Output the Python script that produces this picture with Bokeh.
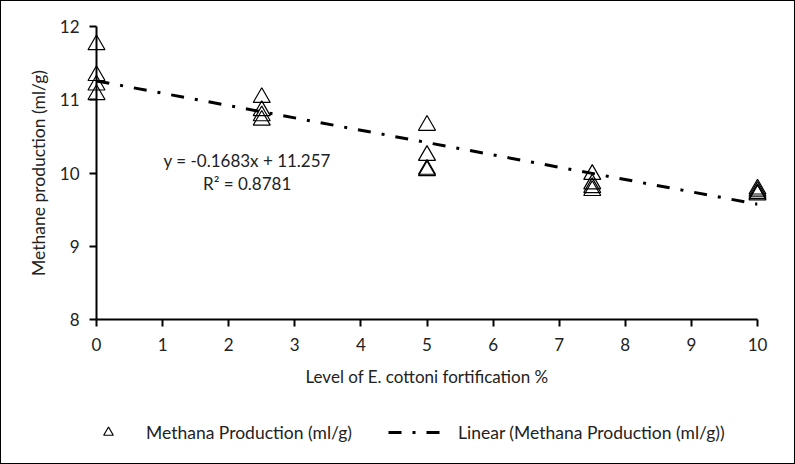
from bokeh.plotting import figure
from bokeh.layouts import column
from bokeh.models import Range1d, FixedTicker, Label, Legend, LegendItem
from bokeh.embed import file_html
from bokeh.resources import INLINE

# ---- data ----
levels = [0, 0, 0, 0,
          2.5, 2.5, 2.5, 2.5,
          5, 5, 5, 5,
          7.5, 7.5, 7.5, 7.5,
          10, 10, 10, 10]
methane = [11.75, 11.33, 11.20, 11.07,
           11.03, 10.85, 10.78, 10.72,
           10.65, 10.24, 10.05, 10.03,
           9.98, 9.85, 9.80, 9.76,
           9.78, 9.75, 9.72, 9.70]
trend_slope = -0.1683
trend_intercept = 11.257
trend_x = [0, 10]
trend_y = [trend_intercept + trend_slope * v for v in trend_x]
x_ticks = [0, 1, 2, 3, 4, 5, 6, 7, 8, 9, 10]
y_ticks = [8, 9, 10, 11, 12]
eq_text = "y = -0.1683x + 11.257"
r2_text = "R\u00b2 = 0.8781"
series_name = "Methana Production (ml/g)"
trend_name = "Linear (Methana Production (ml/g))"
x_title = "Level of E. cottoni fortification %"
y_title = "Methane production (ml/g)"

FONT = "Lato"
FS = "17px"
TXT = "#222222"

MARKER = dict(marker="triangle", fill_color=None, line_color="black", line_width=1.2)
TREND = dict(line_color="black", line_width=3, line_dash="13 11 3 11", line_cap="butt")

# ---- main chart ----
p = figure(width=793, height=400, output_backend="svg", toolbar_location=None,
           x_range=Range1d(0, 10), y_range=Range1d(8, 12),
           min_border_left=95, min_border_right=37, min_border_top=25, min_border_bottom=82)
p.outline_line_color = None
p.grid.visible = False
p.background_fill_color = "white"
p.border_fill_color = "white"

for ax in (p.xaxis[0], p.yaxis[0]):
    ax.axis_line_width = 2
    ax.axis_line_color = "black"
    ax.major_tick_line_width = 2
    ax.major_tick_line_color = "black"
    ax.major_tick_in = 0
    ax.major_tick_out = 7
    ax.minor_tick_line_color = None
    ax.major_label_text_font = FONT
    ax.major_label_text_font_size = FS
    ax.major_label_text_color = TXT
    ax.axis_label_text_font = FONT
    ax.axis_label_text_font_style = "normal"
    ax.axis_label_text_color = TXT

p.xaxis.ticker = FixedTicker(ticks=x_ticks)
p.yaxis.ticker = FixedTicker(ticks=y_ticks)
p.xaxis.axis_label = x_title
p.yaxis.axis_label = y_title
p.xaxis.axis_label_text_font_size = "17px"
p.yaxis.axis_label_text_font_size = "17.5px"
p.xaxis.major_label_standoff = 11
p.yaxis.major_label_standoff = 10
p.xaxis.axis_label_standoff = 12
p.yaxis.axis_label_standoff = 8

trend = p.line(trend_x, trend_y, **TREND)
pts = p.scatter(levels, methane, size=17, **MARKER)
pts.level = "overlay"

p.add_layout(Label(x=2.28, y=10.17, text=eq_text, text_align="center", text_baseline="middle",
                   text_font=FONT, text_font_size=FS, text_color=TXT))
p.add_layout(Label(x=2.28, y=9.86, text=r2_text, text_align="center", text_baseline="middle",
                   text_font=FONT, text_font_size=FS, text_color=TXT))

# ---- legend strip (same styled renderers, their points fall outside this strip's ranges) ----
q = figure(width=793, height=62, output_backend="svg", toolbar_location=None,
           x_range=Range1d(0, 1), y_range=Range1d(0, 1),
           x_axis_location=None, y_axis_location=None,
           min_border_left=0, min_border_right=0, min_border_top=0, min_border_bottom=0)
q.outline_line_color = None
q.grid.visible = False
q.background_fill_color = "white"
q.border_fill_color = "white"
leg_pts = q.scatter(levels[:1], methane[:1], size=17, **MARKER)
leg_trend = q.line(trend_x, trend_y, **TREND)

LEG = dict(orientation="horizontal", padding=0, margin=0, border_line_color=None,
           background_fill_alpha=0, label_text_font=FONT, label_text_font_size="17.5px",
           label_text_color=TXT)
legend1 = Legend(items=[LegendItem(label=series_name, renderers=[leg_pts])],
                 location=(0, 18), glyph_width=24, glyph_height=26, label_standoff=26, **LEG)
legend2 = Legend(items=[LegendItem(label=trend_name, renderers=[leg_trend])],
                 location=(292, 18), glyph_width=56, glyph_height=26, label_standoff=14, **LEG)
q.add_layout(legend1)
q.add_layout(legend2)

layout = column(p, q, spacing=0, styles={"border": "1px solid black"})

open("out.html", "w").write(file_html(layout, INLINE))
